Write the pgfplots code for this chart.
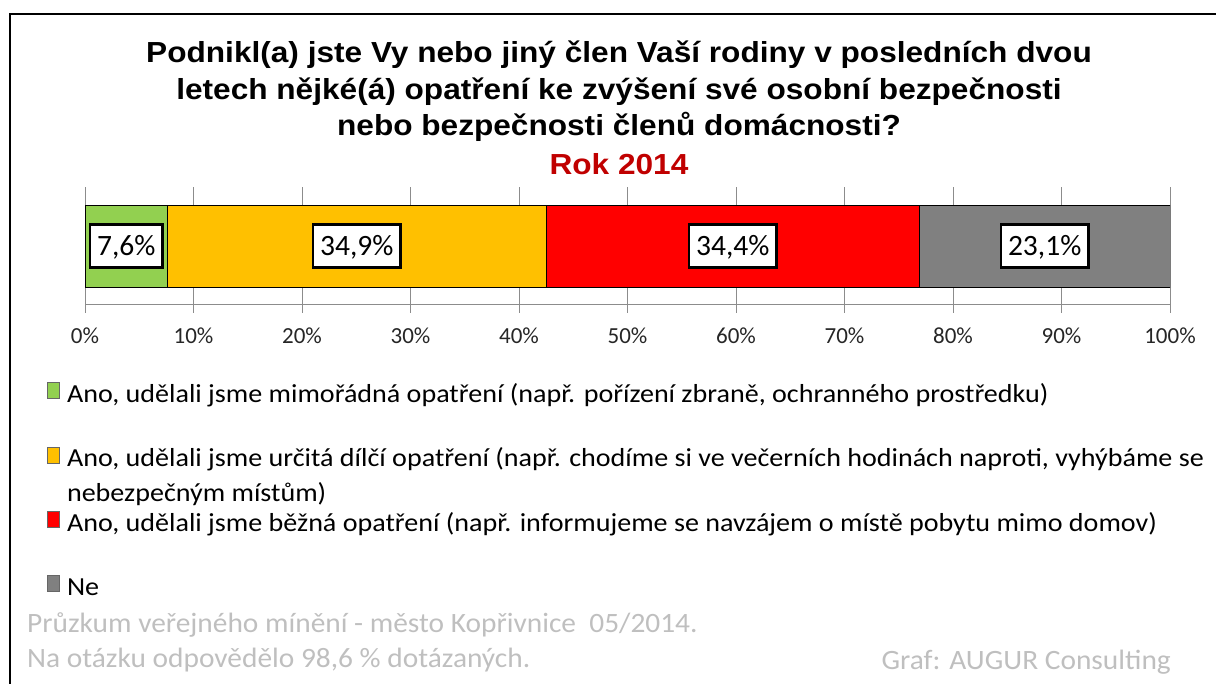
\documentclass[border=0pt]{standalone}
\usepackage{pgfplots}
\pgfplotsset{compat=1.18}
\usepackage{fontspec}
\setmainfont{Carlito}
\newfontfamily\titlefont{Liberation Sans}[BoldFont={Liberation Sans Bold}, BoldFeatures={FakeStretch=1.09}]
\newfontfamily\footfont{Carlito}[FakeStretch=1.05]
\newfontfamily\legfont{Carlito}[FakeStretch=1.08]
\definecolor{cgreen}{HTML}{92D050}
\definecolor{corange}{HTML}{FFC000}
\definecolor{cred}{HTML}{FF0000}
\definecolor{cgray}{HTML}{808080}
\definecolor{rokred}{HTML}{C00000}
\definecolor{foot}{HTML}{BFBFBF}
\begin{document}
\begin{tikzpicture}
\useasboundingbox (0pt,0pt) rectangle (1216pt,684pt);
\draw[line width=2.6pt] (10pt,0pt) -- (10pt,670pt) -- (1217pt,670pt);
% title
\begin{scope}[every node/.style={anchor=base, inner sep=0pt, font=\titlefont\bfseries\fontsize{29}{36}\selectfont}]
\node at (619pt,621pt) {Podnikl(a) jste Vy nebo jiný člen Vaší rodiny v posledních dvou};
\node at (619pt,584pt) {letech nějké(á) opatření ke zvýšení své osobní bezpečnosti};
\node at (619pt,548pt) {nebo bezpečnosti členů domácnosti?};
\node[text=rokred] at (619pt,509pt) {Rok 2014};
\end{scope}
\begin{axis}[
  at={(85pt,379pt)}, anchor=south west,
  width=1085pt, height=118pt, scale only axis,
  xmin=0, xmax=100, ymin=0, ymax=1,
  xbar stacked, bar width=82pt,
  axis x line*=bottom, axis y line=none,
  ytick=\empty,
  xtick={0,10,...,100},
  xticklabel={\pgfmathprintnumber{\tick}\%},
  /pgf/number format/assume math mode=true,
  xticklabel style={font=\fontsize{23}{23}\selectfont, text=black!85, yshift=-11pt},
  xmajorgrids, grid style={draw=black!45, line width=1pt},
  axis line style={draw=black!45, line width=1pt, -},
  tick style={draw=black!45, line width=1pt},
  major tick length=8pt, tick align=outside,
  legend cell align=left,
  legend style={at={(axis description cs:-0.035,-0.6525)}, anchor=north west,
    draw=none, fill=none, inner sep=0pt, row sep=38pt, column sep=7pt,
    nodes={inner sep=0pt, text height=18pt, text depth=6pt},
    font=\legfont\fontsize{26}{35}\selectfont},
  legend image code/.code={\draw[#1, draw=black!60, line width=0.8pt] (0pt,-2pt) rectangle (12pt,14pt);},
]
\addplot[fill=cgreen, draw=black, line width=0.8pt] coordinates {(7.6,0.5)};
\addplot[fill=corange, draw=black, line width=0.8pt] coordinates {(34.9,0.5)};
\addplot[fill=cred, draw=black, line width=0.8pt] coordinates {(34.4,0.5)};
\addplot[fill=cgray, draw=black, line width=0.8pt] coordinates {(23.1,0.5)};
\legend{{Ano, udělali jsme mimořádná opatření (např. pořízení zbraně, ochranného prostředku)},
  {\begin{tabular}[t]{@{}l@{}}Ano, udělali jsme určitá dílčí opatření (např. chodíme si ve večerních hodinách naproti, vyhýbáme se\\nebezpečným místům)\end{tabular}},
  {Ano, udělali jsme běžná opatření (např. informujeme se navzájem o místě pobytu mimo domov)},
  {Ne}}
\end{axis}
\begin{axis}[
  at={(85pt,379pt)}, anchor=south west,
  width=1085pt, height=118pt, scale only axis,
  xmin=0, xmax=100, ymin=0, ymax=1, hide axis]
\addplot[draw=none, mark=none, nodes near coords, point meta=explicit symbolic,
  every node near coord/.style={anchor=center, fill=white, draw=black, line width=2.7pt,
    inner xsep=7pt, inner ysep=0pt, minimum height=42.5pt, text height=19pt, text depth=0pt,
    font=\fontsize{29.5}{30}\selectfont}]
  coordinates {(3.8,0.5) [7,6\%] (25.05,0.5) [34,9\%] (59.7,0.5) [34,4\%] (88.45,0.5) [23,1\%]};
\end{axis}
\begin{scope}[every node/.style={inner sep=0pt, text=foot, font=\footfont\fontsize{28}{28}\selectfont}]
\node[anchor=base west] at (27pt,51pt) {Průzkum veřejného mínění - město Kopřivnice\ \ 05/2014.};
\node[anchor=base west] at (27pt,16pt) {Na otázku odpovědělo 98,6 \% dotázaných.};
\node[anchor=base east] at (1171pt,14pt) {Graf: AUGUR Consulting};
\end{scope}
\end{tikzpicture}
\end{document}
